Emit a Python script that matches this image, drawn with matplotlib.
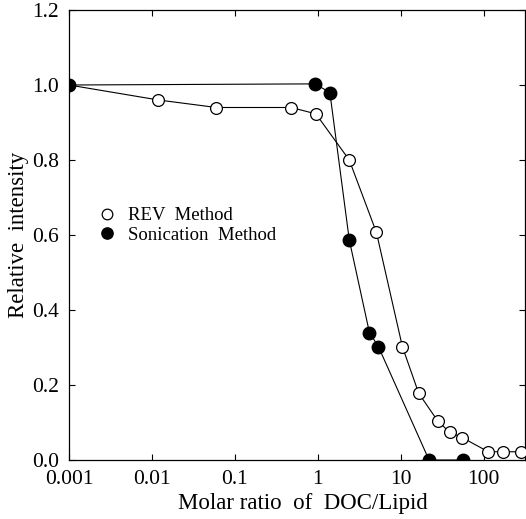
import matplotlib
matplotlib.use("Agg")
import matplotlib.pyplot as plt

rev_x = [0.001, 0.012, 0.06, 0.48, 0.95, 2.4, 5.1, 10.5, 16.5, 28, 39, 55, 114, 170, 280]
rev_y = [1.0, 0.96, 0.94, 0.94, 0.923, 0.80, 0.607, 0.302, 0.178, 0.104, 0.074, 0.06, 0.022, 0.022, 0.022]

son_x = [0.001, 0.93, 1.4, 2.4, 4.2, 5.4, 22, 56]
son_y = [1.0, 1.003, 0.98, 0.587, 0.34, 0.302, 0.0, 0.0]

xticks = [0.001, 0.01, 0.1, 1, 10, 100]
xticklabels = ["0.001", "0.01", "0.1", "1", "10", "100"]
yticks = [0.0, 0.2, 0.4, 0.6, 0.8, 1.0, 1.2]
yticklabels = ["0.0", "0.2", "0.4", "0.6", "0.8", "1.0", "1.2"]

plt.rcParams['font.family'] = ['Liberation Serif', 'DejaVu Serif']

fig = plt.figure(figsize=(5.26, 5.19), dpi=100)
ax = fig.add_axes([69/526, 1-460/519, (525-69)/526, (460-10)/519])

ax.plot(rev_x, rev_y, color='black', lw=0.8, marker='o', ms=8.5,
        mfc='white', mec='black', mew=0.9, label='REV  Method', zorder=3)
ax.plot(son_x, son_y, color='black', lw=0.8, marker='o', ms=9,
        mfc='black', mec='black', label='Sonication  Method', zorder=4)

ax.set_xscale('log')
ax.set_xlim(0.001, 316)
ax.set_ylim(0, 1.2)
ax.set_xticks(xticks)
ax.set_xticklabels(xticklabels)
ax.set_yticks(yticks)
ax.set_yticklabels(yticklabels)
ax.minorticks_off()
ax.tick_params(direction='in', length=4, width=0.8, labelsize=15.5,
               top=True, right=True, pad=7)
for s in ax.spines.values():
    s.set_linewidth(0.9)

ax.set_xlabel('Molar ratio  of  DOC/Lipid', fontsize=16.5, labelpad=4)
ax.xaxis.set_label_coords(0.513, -0.074)
ax.set_ylabel('Relative  intensity', fontsize=16.5, labelpad=2)

leg = ax.legend(loc='upper left', bbox_to_anchor=(0.047, 0.583), frameon=False,
                fontsize=13.5, handlelength=0.8, handletextpad=0.7,
                labelspacing=0.12, borderpad=0, markerscale=0.9)
for h in leg.legend_handles:
    h.set_linestyle('none')

fig.savefig('out.png', dpi=100)
